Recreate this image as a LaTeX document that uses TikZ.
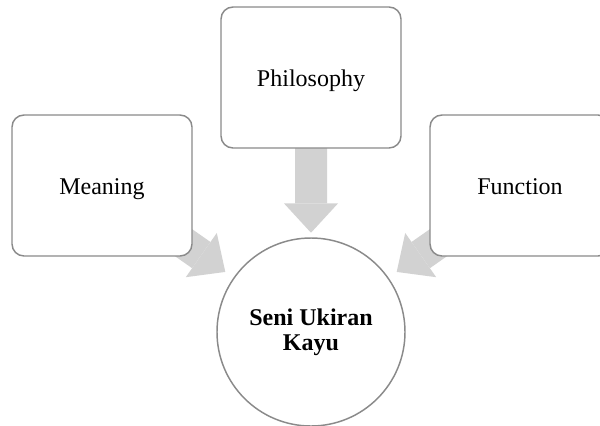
\documentclass[tikz,border=0pt]{standalone}
\usepackage{fontspec}
\setmainfont{Liberation Serif}
\usetikzlibrary{calc,arrows.meta,backgrounds}

\definecolor{boxgray}{RGB}{138,138,138}
\definecolor{arrowgray}{RGB}{210,210,210}

\tikzset{
  topic/.style={draw=boxgray, line width=1.1pt, fill=white, rounded corners=9pt,
    minimum width=135pt, minimum height=105.75pt, text height=12.8pt, text depth=0pt,
    font=\fontsize{18}{21}\selectfont},
  hub/.style={circle, draw=boxgray, line width=1.1pt, fill=white, minimum size=141pt,
    inner sep=0pt, align=center, font=\fontsize{18}{18.5}\selectfont\bfseries},
  flow/.style={draw=arrowgray, line width=24pt,
    -{Triangle[length=22pt,width=40.5pt,line width=0pt,fill=arrowgray]}},
}

\begin{document}
\begin{tikzpicture}[x=0.75pt,y=0.75pt,yscale=-1,xscale=1]
\path[use as bounding box, clip] (0,0) rectangle (600,425);

% Boxes
\node[topic] (meaning) at (102,185.5) {Meaning};
\node[topic] (philo) at (311,77.5) {Philosophy};
\node[topic] (function) at (520,185.5) {Function};
% Centre circle
\node[hub] (seni) at (311,332) {Seni Ukiran\\Kayu};

% Block arrows, behind the boxes
\begin{scope}[on background layer]
\draw[flow] ($(meaning)!0.25!(seni)$) -- ($(meaning)!0.59!(seni)$);
\draw[flow] ($(philo)!0.25!(seni)$) -- ($(philo)!0.61!(seni)$);
\draw[flow] ($(function)!0.25!(seni)$) -- ($(function)!0.59!(seni)$);
\end{scope}

\end{tikzpicture}
\end{document}
